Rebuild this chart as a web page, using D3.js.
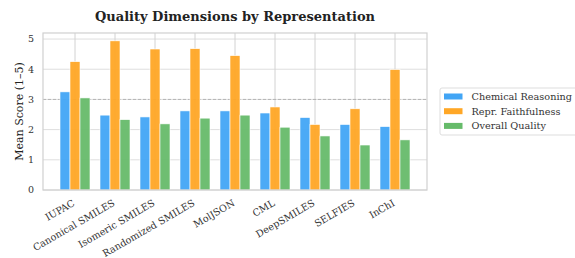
<!DOCTYPE html>
<html>
<head>
<meta charset="utf-8">
<script src="https://cdn.jsdelivr.net/npm/d3@7"></script>
<style>
body { margin: 0; background: #fff; }
text { font-family: "DejaVu Serif", serif; }
</style>
</head>
<body>
<div id="canvas"></div>
<script>
// DATA -----------------------------------------------------
var categories = ["IUPAC", "Canonical SMILES", "Isomeric SMILES", "Randomized SMILES",
  "MolJSON", "CML", "DeepSMILES", "SELFIES", "InChI"];
var series_names = ["Chemical Reasoning", "Repr. Faithfulness", "Overall Quality"];
var chemical_reasoning = [3.25, 2.48, 2.42, 2.62, 2.62, 2.55, 2.40, 2.17, 2.10];
var repr_faithfulness = [4.25, 4.94, 4.67, 4.68, 4.45, 2.75, 2.17, 2.69, 3.99];
var overall_quality = [3.05, 2.33, 2.19, 2.38, 2.48, 2.08, 1.79, 1.49, 1.66];
var y_ticks = [0, 1, 2, 3, 4, 5];
var reference_line = 3;

var series = [chemical_reasoning, repr_faithfulness, overall_quality];
var colors = ["#42a5f5", "#ffa726", "#66bb6a"];

// STRUCTURE ------------------------------------------------
var W = 575, H = 258;
var plot = {left: 43, right: 427, top: 33, bottom: 190};

var svg = d3.select("#canvas").append("svg")
  .attr("width", W)
  .attr("height", H);

// x in category units, like matplotlib (-0.8 .. n-0.2)
var x = d3.scaleLinear()
  .domain([-0.8, categories.length - 0.2])
  .range([plot.left, plot.right]);
var y = d3.scaleLinear()
  .domain([0, 5.2])
  .range([plot.bottom, plot.top]);

// grid
var grid = svg.append("g");
grid.selectAll(".hg")
  .data(y_ticks)
  .enter().append("line")
  .attr("x1", plot.left).attr("x2", plot.right)
  .attr("y1", d => y(d)).attr("y2", d => y(d))
  .attr("stroke", "#dedede").attr("stroke-width", 1);
grid.selectAll(".vg")
  .data(categories)
  .enter().append("line")
  .attr("x1", (d, i) => x(i)).attr("x2", (d, i) => x(i))
  .attr("y1", plot.top).attr("y2", plot.bottom)
  .attr("stroke", "#d2d2d2").attr("stroke-width", 1);

// reference line
svg.append("line")
  .attr("x1", plot.left).attr("x2", plot.right)
  .attr("y1", y(reference_line)).attr("y2", y(reference_line))
  .attr("stroke", "#aaa").attr("stroke-width", 0.8)
  .attr("stroke-dasharray", "3,2");

// BARS -----------------------------------------------------
var bw = 0.25;
series.forEach(function (vals, s) {
  svg.append("g").selectAll("rect")
    .data(vals)
    .enter().append("rect")
    .attr("x", (d, i) => x(i + (s - 1) * bw - bw / 2))
    .attr("width", x(bw) - x(0))
    .attr("y", d => y(d))
    .attr("height", d => y(0) - y(d))
    .attr("fill", colors[s])
    .attr("fill-opacity", 0.95)
    .attr("stroke", "#fff")
    .attr("stroke-width", 0.6);
});

// frame
svg.append("rect")
  .attr("x", plot.left).attr("y", plot.top)
  .attr("width", plot.right - plot.left)
  .attr("height", plot.bottom - plot.top)
  .attr("fill", "none")
  .attr("stroke", "#d0d0d0").attr("stroke-width", 1.2);

// y tick labels
svg.append("g").selectAll("text")
  .data(y_ticks)
  .enter().append("text")
  .attr("x", plot.left - 9)
  .attr("y", d => y(d))
  .attr("dy", "0.35em")
  .attr("text-anchor", "end")
  .attr("font-size", 9.5)
  .attr("fill", "#333")
  .text(d => d);

// x tick labels
svg.append("g").selectAll("text")
  .data(categories)
  .enter().append("text")
  .attr("transform", (d, i) => `translate(${x(i) + 0.5}, ${plot.bottom + 15}) rotate(-30)`)
  .attr("text-anchor", "end")
  .attr("font-size", 9.7)
  .attr("fill", "#333")
  .text(d => d);

// axis label
svg.append("text")
  .attr("transform", `translate(22.5, ${(plot.top + plot.bottom) / 2}) rotate(-90)`)
  .attr("text-anchor", "middle")
  .attr("font-size", 11)
  .attr("fill", "#222")
  .text("Mean Score (1\u20135)");

// title
svg.append("text")
  .attr("x", (plot.left + plot.right) / 2)
  .attr("y", 21)
  .attr("text-anchor", "middle")
  .attr("font-size", 13)
  .attr("font-weight", "bold")
  .attr("fill", "#222")
  .text("Quality Dimensions by Representation");

// LEGEND ---------------------------------------------------
var lg = svg.append("g").attr("transform", "translate(440, 88)");
lg.append("rect")
  .attr("x", 0).attr("y", 0)
  .attr("width", 140).attr("height", 47)
  .attr("rx", 2)
  .attr("fill", "#fff")
  .attr("stroke", "#ddd");
series_names.forEach(function (name, s) {
  var cy = 8.5 + s * 14.7;
  lg.append("rect")
    .attr("x", 4).attr("y", cy - 3)
    .attr("width", 18.5).attr("height", 6)
    .attr("fill", colors[s]);
  lg.append("text")
    .attr("x", 31.5).attr("y", cy)
    .attr("dy", "0.35em")
    .attr("font-size", 9.7)
    .attr("fill", "#333")
    .text(name);
});
</script>
</body>
</html>
